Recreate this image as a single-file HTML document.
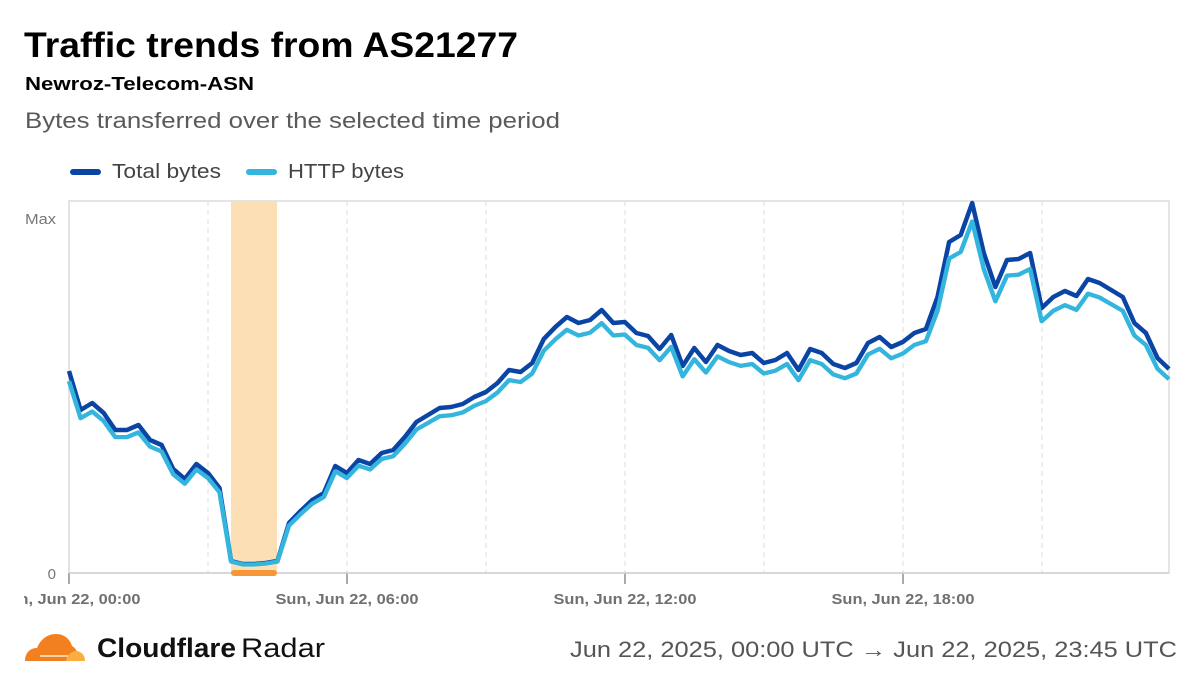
<!DOCTYPE html>
<html><head><meta charset="utf-8"><style>
html,body{margin:0;padding:0;background:#fff;}
svg{display:block;font-family:"Liberation Sans",sans-serif;}
</style></head><body>
<svg width="1200" height="687" viewBox="0 0 1200 687" xmlns="http://www.w3.org/2000/svg">
<rect width="1200" height="687" fill="#fff"/>
<text x="24" y="57" font-size="35" font-weight="bold" fill="#000" textLength="494" lengthAdjust="spacingAndGlyphs">Traffic trends from AS21277</text>
<text x="25" y="90" font-size="18" font-weight="bold" fill="#000" textLength="229" lengthAdjust="spacingAndGlyphs">Newroz-Telecom-ASN</text>
<text x="25" y="128" font-size="22" fill="#5a5a5a" textLength="535" lengthAdjust="spacingAndGlyphs">Bytes transferred over the selected time period</text>
<line x1="73" y1="172" x2="98" y2="172" stroke="#0a45a5" stroke-width="6" stroke-linecap="round"/>
<text x="112" y="178" font-size="20" fill="#444" textLength="109" lengthAdjust="spacingAndGlyphs">Total bytes</text>
<line x1="249" y1="172" x2="274" y2="172" stroke="#33b5dd" stroke-width="6" stroke-linecap="round"/>
<text x="288" y="178" font-size="20" fill="#444" textLength="116" lengthAdjust="spacingAndGlyphs">HTTP bytes</text>
<rect x="69" y="201" width="1100" height="372" fill="none" stroke="#dcdcdc" stroke-width="1.5"/>
<g stroke="#dcdcdc" stroke-width="1" stroke-dasharray="5,4">
<line x1="208" y1="201" x2="208" y2="573"/><line x1="347" y1="201" x2="347" y2="573"/>
<line x1="486" y1="201" x2="486" y2="573"/><line x1="625" y1="201" x2="625" y2="573"/>
<line x1="764" y1="201" x2="764" y2="573"/><line x1="903" y1="201" x2="903" y2="573"/>
<line x1="1042" y1="201" x2="1042" y2="573"/>
</g>
<rect x="231" y="201" width="46" height="372" fill="#fddfb5"/>
<g stroke="#aaa" stroke-width="2">
<line x1="69" y1="573" x2="69" y2="584"/><line x1="347" y1="573" x2="347" y2="584"/>
<line x1="625" y1="573" x2="625" y2="584"/><line x1="903" y1="573" x2="903" y2="584"/>
</g>
<line x1="69" y1="573" x2="1169" y2="573" stroke="#d0d0d0" stroke-width="1.5"/>
<rect x="231" y="570" width="46" height="6" rx="3" fill="#f6973a"/>
<text x="56" y="224" font-size="15" fill="#777" text-anchor="end" textLength="31" lengthAdjust="spacingAndGlyphs">Max</text>
<text x="56" y="579" font-size="15" fill="#777" text-anchor="end">0</text>
<g font-size="15" font-weight="bold" fill="#707070" text-anchor="middle">
<text x="69" y="604" textLength="143" lengthAdjust="spacingAndGlyphs">Sun, Jun 22, 00:00</text>
<text x="347" y="604" textLength="143" lengthAdjust="spacingAndGlyphs">Sun, Jun 22, 06:00</text>
<text x="625" y="604" textLength="143" lengthAdjust="spacingAndGlyphs">Sun, Jun 22, 12:00</text>
<text x="903" y="604" textLength="143" lengthAdjust="spacingAndGlyphs">Sun, Jun 22, 18:00</text>
</g>
<rect x="0" y="585" width="24" height="25" fill="#fff"/>
<defs>
<polyline id="ln" fill="none" stroke-linejoin="round" points="69,371 80.6,410 92.2,403 103.7,413 115.3,430 126.9,430 138.5,425 150.1,440 161.6,445 173.2,469 184.8,479 196.4,464 208,473 219.5,488 231.1,561 242.7,564 254.3,564 265.9,563 277.4,561 289,523 300.6,511 312.2,500 323.8,493 335.3,466 346.9,473 358.5,460 370.1,464 381.7,453 393.2,450 404.8,437 416.4,422 428,415 439.6,408 451.1,407 462.7,404 474.3,397 485.9,392 497.5,383 509,370 520.6,372 532.2,363 543.8,339 555.4,327 566.9,317 578.5,323 590.1,320 601.7,310 613.3,323 624.8,322 636.4,333 648,336 659.6,349 671.2,335 682.7,366 694.3,348 705.9,362 717.5,345 729.1,351 740.6,355 752.2,353 763.8,363 775.4,360 787,353 798.5,370 810.1,349 821.7,353 833.3,364 844.9,368 856.4,363 868,343 879.6,337 891.2,347 902.8,342 914.3,333 925.9,329 937.5,297 949.1,242 960.7,235 972.2,203 983.8,253 995.4,287 1007,260 1018.6,259 1030.1,253 1041.7,308 1053.3,297 1064.9,291 1076.5,296 1088,279 1099.6,283 1111.2,290 1122.8,297 1134.4,323 1145.9,333 1157.5,358 1169,369"/>
</defs>
<use href="#ln" stroke="#0a45a5" stroke-width="4.5"/>
<g transform="translate(0,573) scale(1,0.95) translate(0,-573)">
<use href="#ln" stroke="#33b5dd" stroke-width="4.5"/>
</g>
<g>
<path d="M25,661 C25,653 30,648 37,648 C40,640 47,634 56,634 C64,634 70,639 72,646 C74,647 76,649 77,652 L72,661 Z" fill="#f38020"/>
<path d="M66,661 C67,655 71,651 76,651 C81,651 85,655 85,661 Z" fill="#faae40"/>
<line x1="40" y1="656" x2="68" y2="656" stroke="#fff" stroke-width="1.2"/>
</g>
<text x="97" y="657" font-size="27" font-weight="bold" fill="#111" textLength="139" lengthAdjust="spacingAndGlyphs">Cloudflare</text>
<text x="241" y="657" font-size="27" fill="#111" textLength="84" lengthAdjust="spacingAndGlyphs">Radar</text>
<text x="1177" y="657" font-size="22" fill="#555" text-anchor="end" textLength="607" lengthAdjust="spacingAndGlyphs">Jun 22, 2025, 00:00 UTC → Jun 22, 2025, 23:45 UTC</text>
</svg>
</body></html>
